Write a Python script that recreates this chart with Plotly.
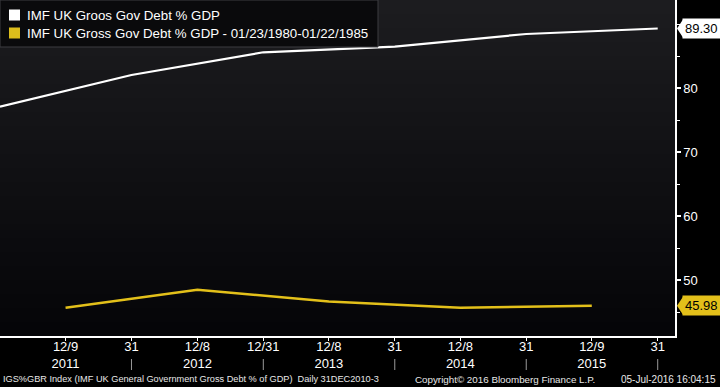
import plotly.graph_objects as go

# ---------------- data ----------------
series_names = [
    "IMF UK Groos Gov Debt % GDP",
    "IMF UK Gross Gov Debt % GDP - 01/23/1980-01/22/1985",
]
current_dates = ["2010-12-31", "2011-12-31", "2012-12-31", "2013-12-31", "2014-12-31", "2015-12-31"]
current_values = [77.08, 82.03, 85.58, 86.47, 88.44, 89.30]

hist_dates = ["2011-07-01", "2012-07-01", "2013-07-01", "2014-07-01", "2015-07-01"]
hist_values = [45.67, 48.48, 46.65, 45.67, 45.98]

x_tick_vals = ["2011-07-01", "2011-12-31", "2012-07-01", "2012-12-31", "2013-07-01",
               "2013-12-31", "2014-07-01", "2014-12-31", "2015-07-01", "2015-12-31"]
x_tick_text = ["12/9<br>2011", "31", "12/8<br>2012", "12/31", "12/8<br>2013",
               "31", "12/8<br>2014", "31", "12/9<br>2015", "31"]
year_separators = ["2011-12-31", "2012-12-31", "2013-12-31", "2014-12-31", "2015-12-31"]
y_tick_vals = [50, 60, 70, 80]

footer_left = "IGS%GBR Index (IMF UK General Government Gross Debt % of GDP)  Daily 31DEC2010-3"
footer_mid = "Copyright\u00a9 2016 Bloomberg Finance L.P."
footer_right = "05-Jul-2016 16:04:15"

# ---------------- style ----------------
WHITE = "#ffffff"
GOLD = "#e3c01a"
FONT = "Liberation Sans"
W, H = 720, 387
M_L, M_R, M_T, M_B = 0, 45, 0, 51
PW = W - M_L - M_R
PH = H - M_T - M_B

fig = go.Figure()
fig.add_trace(go.Scatter(x=current_dates, y=current_values, mode="lines",
                         line=dict(color=WHITE, width=2.2), name=series_names[0],
                         showlegend=False))
fig.add_trace(go.Scatter(x=hist_dates, y=hist_values, mode="lines",
                         line=dict(color=GOLD, width=2.6), name=series_names[1],
                         showlegend=False))

shapes = []
# gradient background of plot area
n_bands = 48
top_c = (28, 28, 31)
bot_c = (5, 5, 8)
for i in range(n_bands):
    t = i / (n_bands - 1)
    c = tuple(int(round(top_c[k] + (bot_c[k] - top_c[k]) * t)) for k in range(3))
    shapes.append(dict(type="rect", xref="paper", yref="paper", layer="below",
                       x0=0, x1=1, y0=1 - i / n_bands, y1=1 - (i + 1) / n_bands,
                       fillcolor="rgb(%d,%d,%d)" % c, line=dict(width=0)))

# legend box (manual)
shapes.append(dict(type="rect", xref="paper", yref="paper", xsizemode="pixel", ysizemode="pixel",
                   xanchor=0, yanchor=1, x0=0, x1=378, y0=0, y1=-47,
                   fillcolor="#0a0a0c", line=dict(color="#3c3c40", width=1)))
leg_colors = [WHITE, "#dcbd1c"]
annotations = []
for i, (nm, col) in enumerate(zip(series_names, leg_colors)):
    yc = -15 - 18 * i
    shapes.append(dict(type="rect", xref="paper", yref="paper", xsizemode="pixel", ysizemode="pixel",
                       xanchor=0, yanchor=1, x0=9, x1=20, y0=yc + 5.5, y1=yc - 5.5,
                       fillcolor=col, line=dict(width=0)))
    annotations.append(dict(xref="paper", yref="paper", x=0, y=1, xshift=25, yshift=yc,
                            xanchor="left", yanchor="middle", showarrow=False,
                            text=nm, font=dict(family=FONT, size=13.3, color=WHITE)))

# year separators between tick label rows
for d in year_separators:
    shapes.append(dict(type="line", xref="x", yref="paper", ysizemode="pixel", yanchor=0,
                       x0=d, x1=d, y0=-23, y1=-34, line=dict(color="#9a9a9a", width=1)))

# last value labels
for vals, bg, fg in [(current_values, WHITE, "#000000"), (hist_values, GOLD, "#000000")]:
    v = vals[-1]
    shapes.append(dict(type="path", xref="paper", yref="y",
                       path="M %f,%f L %f,%f L %f,%f Z" % (1 + 2 / PW, v, 1 + 8 / PW, v + 1.4,
                                                          1 + 8 / PW, v - 1.4),
                       fillcolor=bg, line=dict(width=0)))
    annotations.append(dict(xref="paper", yref="y", x=1, y=v, xshift=7, xanchor="left",
                            yanchor="middle", showarrow=False, text="%.2f" % v,
                            bgcolor=bg, borderpad=2,
                            font=dict(family=FONT, size=13, color=fg)))

# footer
annotations.append(dict(xref="paper", yref="paper", x=0, y=0, xshift=1, yshift=-43,
                        xanchor="left", yanchor="middle", showarrow=False,
                        text=footer_left, font=dict(family=FONT, size=9.2, color="#e8e8e8")))
annotations.append(dict(xref="paper", yref="paper", x=413 / PW, y=0, yshift=-43,
                        xanchor="left", yanchor="middle", showarrow=False,
                        text=footer_mid, font=dict(family=FONT, size=9.8, color="#e8e8e8")))
annotations.append(dict(xref="paper", yref="paper", x=718 / PW, y=0, yshift=-43,
                        xanchor="right", yanchor="middle", showarrow=False,
                        text=footer_right, font=dict(family=FONT, size=10, color="#e8e8e8")))

fig.update_layout(
    width=W, height=H,
    margin=dict(l=M_L, r=M_R, t=M_T, b=M_B, pad=0),
    paper_bgcolor="#000000", plot_bgcolor="#000000",
    showlegend=False,
    shapes=shapes, annotations=annotations,
    xaxis=dict(type="date", range=["2010-12-31", "2016-02-17"],
               tickmode="array", tickvals=x_tick_vals, ticktext=x_tick_text,
               showgrid=False, zeroline=False, showline=True, linecolor=WHITE, linewidth=1.5,
               ticks="outside", ticklen=3, tickcolor=WHITE, tickwidth=1,
               ticklabelstandoff=-5,
               tickfont=dict(family=FONT, size=13, color=WHITE)),
    yaxis=dict(side="right", range=[41.25, 93.75], tickmode="array", tickvals=y_tick_vals,
               showgrid=False, zeroline=False, showline=True, linecolor=WHITE, linewidth=1.5,
               ticks="outside", ticklen=4, tickwidth=2, tickcolor=WHITE,
               minor=dict(dtick=5, tick0=0, ticks="outside", ticklen=3, tickcolor=WHITE, tickwidth=1),
               tickfont=dict(family=FONT, size=13, color=WHITE)),
)

fig.write_html("out.html", config={"displayModeBar": False},
               post_script="document.body.style.margin='0';document.body.style.background='#000';")
